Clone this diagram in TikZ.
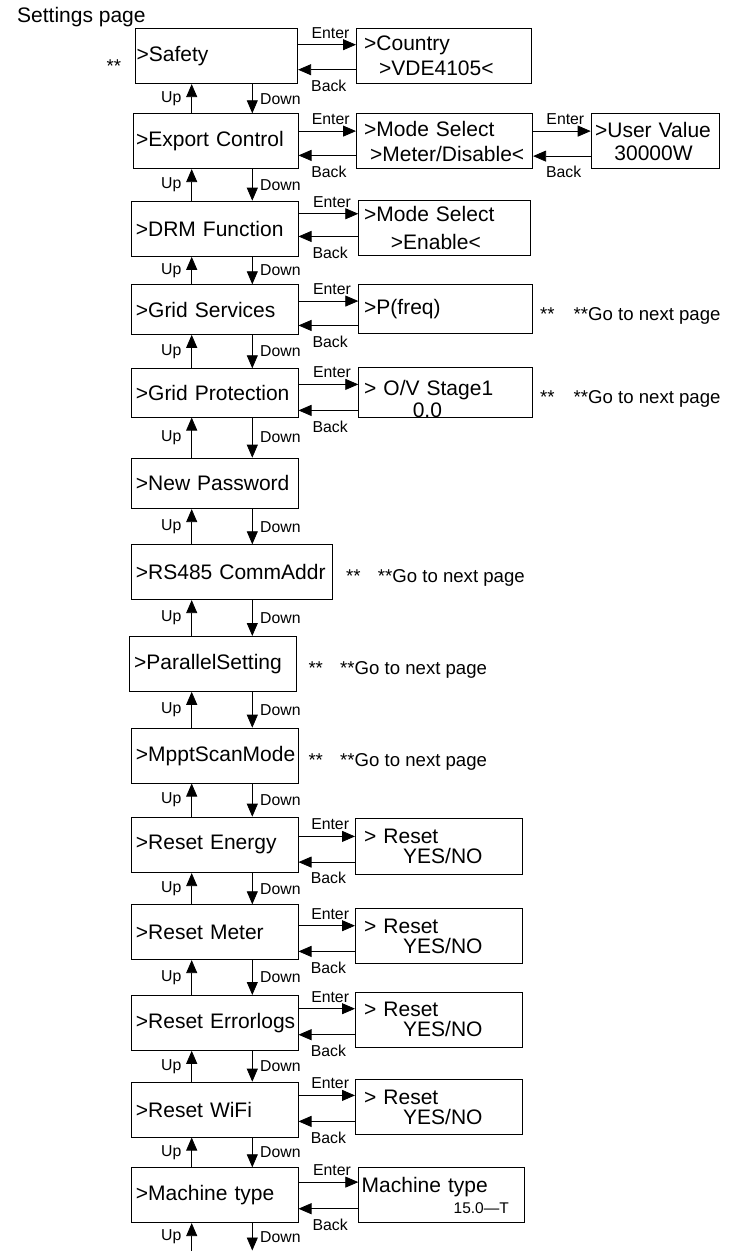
\documentclass[tikz,border=0pt]{standalone}
\usepackage{fontspec}
\setmainfont{Liberation Sans}
\usetikzlibrary{arrows.meta, positioning}
\newcommand{\menufont}{\fontsize{21}{21}\selectfont\hyphenpenalty=10000}
\newcommand{\keyfont}{\fontsize{15.8}{16}\selectfont}
\newcommand{\notefont}{\fontsize{18.6}{20}\selectfont}

\begin{document}
\begin{tikzpicture}[
    x=1pt, y=-1pt,
    menubox/.style={draw, line width=0.8pt, anchor=north west, align=left,
                    text width=157.7pt, inner xsep=4.5pt, inner ysep=0pt,
                    minimum height=55pt, font=\menufont},
    replybox/.style={menubox, text width=149.7pt, inner xsep=8.8pt},
    arr/.style={-{Triangle[length=13pt, width=11pt]}, line width=0.8pt},
    key/.style={font=\keyfont, inner sep=0pt},
    note/.style={font=\notefont, inner sep=0pt, anchor=base west}
  ]
  \useasboundingbox (0,0) rectangle (738,1251);

  \node[anchor=west, inner sep=0pt, font=\menufont] (title) at (17,17.5) {Settings page};

  % settings column
  \node[menubox, text width=159.7pt, inner xsep=1.3pt] (safety) at (135,28.3) {>Safety};
  \node[menubox, text width=159.6pt, inner xsep=2.4pt] (export) at (133.3,113.3) {>Export Control};
  \node[menubox, minimum height=55.3pt] (drm)      at (131,200.7) {>DRM Function};
  \node[menubox, minimum height=49.7pt] (gridserv) at (131,284.3) {>Grid Services};
  \node[menubox, minimum height=48.4pt] (gridprot) at (131,368.3) {>Grid Protection};
  \node[menubox, minimum height=50.6pt] (newpass)  at (131,457.7) {>New Password};
  \node[menubox, text width=191.7pt]    (rs485)    at (131,544.3) {\mbox{>RS485 CommAddr}};
  \node[menubox] (parallel)    at (129.3,636)  {>ParallelSetting};
  \node[menubox] (mppt)        at (131,727.7)  {>MpptScanMode};
  \node[menubox, minimum height=55.6pt] (resetenergy) at (131,816.7) {>Reset Energy};
  \node[menubox] (resetmeter)  at (131,904.3)  {>Reset Meter};
  \node[menubox] (reseterr)    at (131,995)    {\mbox{>Reset Errorlogs}};
  \node[menubox] (resetwifi)   at (131,1081.7) {>Reset WiFi};
  \node[menubox] (machine)     at (131,1167.3) {>Machine type};

  % sub pages
  \node[menubox, text width=159.1pt, inner xsep=7.8pt] (country) at (356,28.3)
       {>Country\\[4pt]\hspace*{15pt}>VDE4105<};
  \node[menubox, text width=160.7pt, inner xsep=7.8pt] (modesel) at (356,113.3)
       {>Mode Select\\[4pt]\hspace*{6pt}>Meter/Disable<};
  \node[menubox, text width=120.3pt, inner xsep=4pt] (uservalue) at (590.7,113.3)
       {\mbox{>User Value}\\[2.3pt]\hspace*{19.3pt}30000W};
  \node[menubox, text width=160.7pt, inner xsep=5.5pt] (drmmode) at (358.3,200)
       {>Mode Select\\[7.3pt]\hspace*{26.7pt}>Enable<};
  \node[menubox, text width=163pt, inner xsep=5.5pt, minimum height=49pt] (pfreq) at (358.3,284.3)
       {>P(freq)};
  \node[menubox, text width=162.4pt, inner xsep=5.5pt, minimum height=50pt] (ovstage) at (358.3,367.3)
       {\rule{0pt}{27.3pt}> O/V Stage1\\[0.7pt]\hspace*{48.6pt}0.0};
  \node[replybox, minimum height=56pt] (energyyes) at (355,818)    {> Reset\\[-1pt]\hspace*{39pt}YES/NO};
  \node[replybox] (meteryes)  at (355,908.3)  {> Reset\\[-1pt]\hspace*{39pt}YES/NO};
  \node[replybox] (erryes)    at (355,991.7)  {> Reset\\[-1pt]\hspace*{39pt}YES/NO};
  \node[replybox] (wifiyes)   at (355,1079)   {> Reset\\[-1pt]\hspace*{39pt}YES/NO};
  \node[menubox, text width=160pt, inner xsep=3pt, minimum height=55.3pt] (machtype) at (358.3,1167)
       {Machine type\\{\fontsize{15.5}{15.5}\selectfont\hspace*{92pt}15.0—T}};

  % notes
  \node[note] (safetymark) at (106.5,72.4) {**};
  \node[note] (gsmark)  at (540,320)     {**};
  \node[note] (gsnext)  at (573.5,320)   {**Go to next page};
  \node[note] (gpmark)  at (540,403.5)   {**};
  \node[note] (gpnext)  at (573.5,403.5) {**Go to next page};
  \node[note] (rsmark)  at (346,582.8)   {**};
  \node[note] (rsnext)  at (377.7,582.8) {**Go to next page};
  \node[note] (parmark) at (308.3,674.5) {**};
  \node[note] (parnext) at (340,674.5)   {**Go to next page};
  \node[note] (mpmark)  at (308.3,766)   {**};
  \node[note] (mpnext)  at (340,766)     {**Go to next page};

  % Enter / Back
  \foreach \src/\dst/\ein/\eout in {safety/country/11.5pt/-13.5pt, export/modesel/10.1pt/-14.2pt,
      modesel/uservalue/10.1pt/-14.9pt, drm/drmmode/15pt/-7.7pt, gridserv/pfreq/8.5pt/-15.9pt,
      gridprot/ovstage/8.5pt/-17.5pt, resetenergy/energyyes/8.5pt/-17.2pt,
      resetmeter/meteryes/6.5pt/-19.2pt, reseterr/erryes/14.2pt/-11.8pt,
      resetwifi/wifiyes/14.2pt/-11.8pt, machine/machtype/13.1pt/-13.5pt}{
    \draw[arr] ([yshift=\ein]\src.east) -- ([yshift=\ein]\src.east -| \dst.west)
      node[key, pos=0.56, above=6pt] {Enter};
    \draw[arr] ([yshift=\eout]\src.east -| \dst.west) -- ([yshift=\eout]\src.east)
      node[key, pos=0.47, below=10pt] {Back};
  }

  % Up / Down
  \coordinate (uplane) at (191.7,0);
  \coordinate (downlane) at (252.3,0);
  \coordinate (bottomend) at (0,1250.5);
  \foreach \hi/\lo in {safety/export, export/drm, drm/gridserv, gridserv/gridprot,
      gridprot/newpass, newpass/rs485, rs485/parallel, parallel/mppt, mppt/resetenergy,
      resetenergy/resetmeter, resetmeter/reseterr, reseterr/resetwifi, resetwifi/machine}{
    \draw[arr] (\lo.north -| uplane) -- (\hi.south -| uplane) node[key, midway, left=10pt] {Up};
    \draw[arr] (\hi.south -| downlane) -- (\lo.north -| downlane) node[key, midway, right=7.5pt] {Down};
  }
  \draw[arr] (bottomend -| uplane) -- (machine.south -| uplane) node[key, midway, left=10pt] {Up};
  \draw[arr] (machine.south -| downlane) -- (bottomend -| downlane) node[key, midway, right=7.5pt] {Down};
\end{tikzpicture}
\end{document}
